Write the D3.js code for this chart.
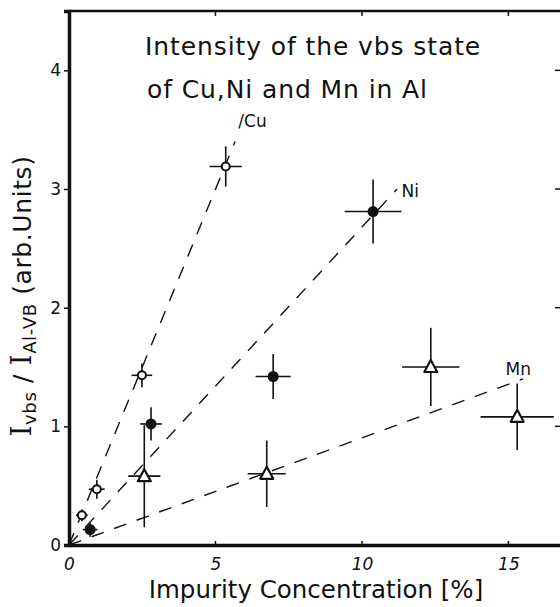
<!DOCTYPE html>
<html>
<head>
<meta charset="utf-8">
<script src="https://cdn.jsdelivr.net/npm/d3@7"></script>
<style>
body { margin: 0; background: #fff; }
svg text { font-family: 'DejaVu Sans', sans-serif; fill: #111; }
</style>
</head>
<body>
<script>
// values
var cuX = [0.44, 0.95, 2.49, 5.35];
var cuY = [0.25, 0.47, 1.43, 3.19];
var cuXErr = [0.2, 0.27, 0.35, 0.55];
var cuYErr = [0.05, 0.08, 0.1, 0.17];

var niX = [0.72, 2.8, 6.97, 10.38];
var niY = [0.13, 1.02, 1.42, 2.81];
var niXErr = [0.25, 0.37, 0.6, 0.97];
var niYErr = [0.06, 0.14, 0.19, 0.27];

var mnX = [2.57, 6.75, 12.35, 15.3];
var mnY = [0.58, 0.60, 1.50, 1.08];
var mnXErr = [0.55, 0.65, 0.98, 1.25];
var mnYErr = [0.43, 0.28, 0.33, 0.28];

// dashed guide lines, start and end in data units
var cuLine = [[0, 0], [5.67, 3.4]];
var niLine = [[0, 0], [11.2, 3.0]];
var mnLine = [[0, 0], [15.5, 1.4]];

var xTicks = [0, 5, 10, 15];
var yTicks = [0, 1, 2, 3, 4];

var svg = d3.select('body')
	.append('svg')
	.attr('width', 560)
	.attr('height', 607);

var x = d3.scaleLinear().domain([0, 17]).range([69, 567]);
var y = d3.scaleLinear().domain([0, 4.5]).range([545, 11]);

// frame
svg.append('line').attr('x1', x(0)).attr('x2', x(17)).attr('y1', y(4.5)).attr('y2', y(4.5))
	.style('stroke', '#111').style('stroke-width', 2.5);
svg.append('line').attr('x1', x(17)).attr('x2', x(17)).attr('y1', y(0)).attr('y2', y(4.5))
	.style('stroke', '#111').style('stroke-width', 2.5);

// axes
var xAxis = d3.axisBottom(x).tickValues(xTicks).tickSize(0).tickPadding(13);
var gx = svg.append('g').attr('transform', 'translate(0,' + y(0) + ')').call(xAxis);
gx.select('.domain').style('stroke', '#111').style('stroke-width', 3.5);
gx.selectAll('text').style('font-size', '17px').style('font-style', 'italic')
	.style('font-family', "'DejaVu Sans', sans-serif");

var yAxis = d3.axisLeft(y).tickValues(yTicks).tickFormat(d3.format('d')).tickSize(5).tickPadding(3);
var gy = svg.append('g').attr('transform', 'translate(' + x(0) + ',0)').call(yAxis);
gy.select('.domain').style('stroke', '#111').style('stroke-width', 3.5);
gy.selectAll('.tick line').style('stroke', '#111').style('stroke-width', 1.5);
gy.selectAll('text').style('font-size', '17px')
	.style('font-family', "'DejaVu Sans', sans-serif");

// inner ticks on top and right
svg.selectAll('.topTick')
	.data(xTicks.slice(1))
	.enter().append('line')
	.attr('x1', function(d){ return x(d); }).attr('x2', function(d){ return x(d); })
	.attr('y1', y(4.5)).attr('y2', y(4.5) + 5)
	.style('stroke', '#111').style('stroke-width', 1.5);
svg.selectAll('.botTick')
	.data(xTicks.slice(1))
	.enter().append('line')
	.attr('x1', function(d){ return x(d); }).attr('x2', function(d){ return x(d); })
	.attr('y1', y(0)).attr('y2', y(0) - 4)
	.style('stroke', '#111').style('stroke-width', 1.5);
svg.selectAll('.rightTick')
	.data(yTicks.slice(1))
	.enter().append('line')
	.attr('x1', x(17)).attr('x2', x(17) - 12)
	.attr('y1', function(d){ return y(d); }).attr('y2', function(d){ return y(d); })
	.style('stroke', '#111').style('stroke-width', 1.5);

// dashed lines
var line = d3.line()
	.x(function(d){ return x(d[0]); })
	.y(function(d){ return y(d[1]); });
[cuLine, niLine, mnLine].forEach(function(l){
	svg.append('path')
		.attr('d', line(l))
		.style('fill', 'none')
		.style('stroke', '#111')
		.style('stroke-width', 1.4)
		.style('stroke-dasharray', '13,11');
});

// error bars + markers
var plotSeries = function(xs, ys, xe, ye, kind) {
	var pts = xs.map(function(d, i){
		return { x: d, y: ys[i], xe: xe[i], ye: ye[i] };
	});
	var g = svg.append('g');
	g.selectAll('.hbar').data(pts).enter().append('line')
		.attr('x1', function(d){ return x(d.x - d.xe); })
		.attr('x2', function(d){ return x(d.x + d.xe); })
		.attr('y1', function(d){ return y(d.y); })
		.attr('y2', function(d){ return y(d.y); })
		.style('stroke', '#111').style('stroke-width', 1.6);
	g.selectAll('.vbar').data(pts).enter().append('line')
		.attr('x1', function(d){ return x(d.x); })
		.attr('x2', function(d){ return x(d.x); })
		.attr('y1', function(d){ return y(d.y - d.ye); })
		.attr('y2', function(d){ return y(d.y + d.ye); })
		.style('stroke', '#111').style('stroke-width', 1.6);
	if (kind === 'open') {
		g.selectAll('.mk').data(pts).enter().append('circle')
			.attr('cx', function(d){ return x(d.x); })
			.attr('cy', function(d){ return y(d.y); })
			.attr('r', 4)
			.style('fill', '#fff').style('stroke', '#111').style('stroke-width', 2);
	} else if (kind === 'filled') {
		g.selectAll('.mk').data(pts).enter().append('circle')
			.attr('cx', function(d){ return x(d.x); })
			.attr('cy', function(d){ return y(d.y); })
			.attr('r', 5.5)
			.style('fill', '#111');
	} else {
		g.selectAll('.mk').data(pts).enter().append('path')
			.attr('transform', function(d){ return 'translate(' + x(d.x) + ',' + y(d.y) + ')'; })
			.attr('d', 'M0,-7 L6.5,5 L-6.5,5 Z')
			.style('fill', '#fff').style('stroke', '#111').style('stroke-width', 2.2)
			.style('stroke-linejoin', 'round');
	}
};
plotSeries(cuX, cuY, cuXErr, cuYErr, 'open');
plotSeries(niX, niY, niXErr, niYErr, 'filled');
plotSeries(mnX, mnY, mnXErr, mnYErr, 'triangle');

// series labels
svg.append('text').attr('x', x(5.78)).attr('y', y(3.52)).text('/Cu').style('font-size', '17px');
svg.append('text').attr('x', x(11.35)).attr('y', y(2.93)).text('Ni').style('font-size', '17px');
svg.append('text').attr('x', x(14.9)).attr('y', y(1.43)).text('Mn').style('font-size', '17px');

// title
svg.append('text').attr('x', 145).attr('y', 55).text('Intensity of the vbs state')
	.style('font-size', '25px').style('letter-spacing', '0.9px');
svg.append('text').attr('x', 147).attr('y', 98).text('of Cu,Ni and Mn in Al')
	.style('font-size', '25px').style('letter-spacing', '0.9px');

// x title
svg.append('text').attr('x', 316).attr('y', 598).attr('text-anchor', 'middle')
	.text('Impurity Concentration [%]').style('font-size', '24.5px');

// y title
var yt = svg.append('text')
	.attr('transform', 'translate(31,296) rotate(-90)')
	.attr('text-anchor', 'middle')
	.style('font-size', '25px')
	.style('letter-spacing', '0.6px');
yt.append('tspan').text('I').style('font-family', "'DejaVu Serif', serif").style('font-size', '28px');
yt.append('tspan').text('vbs').attr('dy', 5).style('font-size', '18px');
yt.append('tspan').text(' / ').attr('dy', -5);
yt.append('tspan').text('I').style('font-family', "'DejaVu Serif', serif").style('font-size', '28px');
yt.append('tspan').text('Al-VB').attr('dy', 5).style('font-size', '18px');
yt.append('tspan').text(' (arb.Units)').attr('dy', -5);
</script>
</body>
</html>
